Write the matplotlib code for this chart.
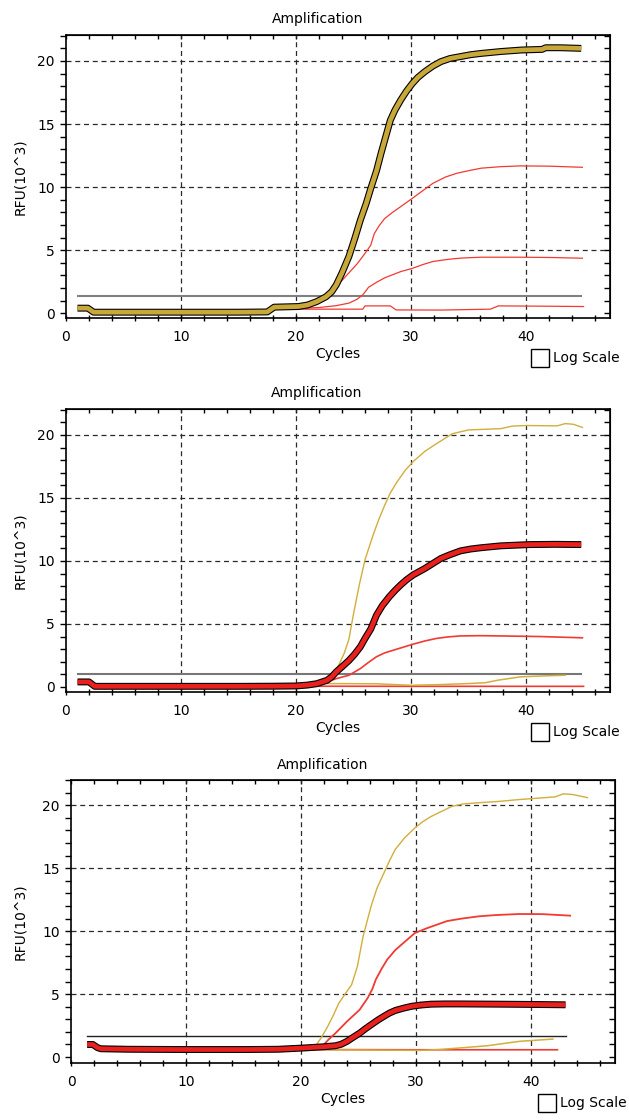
import matplotlib
matplotlib.use('Agg')
import matplotlib.pyplot as plt
import matplotlib.patheffects as pe
from matplotlib.patches import Rectangle
from matplotlib.ticker import MultipleLocator, NullFormatter

plt.rcParams['font.family'] = ['DejaVu Sans']

GOLD = '#C9A83A'
GOLD_THIN = '#D2AE3C'
RED = '#E8211E'
RED_THIN = '#F03A32'

# ---- panel 1: gold trace highlighted ----
p1_gold_x = [1.0, 1.9, 2.4, 5, 10, 15, 17.5, 18.1, 20.2, 21.0, 21.8, 22.6, 23.1, 23.5, 24.0, 24.6,
             25.1, 25.6, 26.1, 26.5, 27.0, 27.4, 27.8, 28.2, 28.6, 29.1, 29.6, 30.1, 30.6, 31.2,
             31.9, 32.6, 33.4, 34.3, 35.2, 36.1, 37.8, 39.6, 41.4, 41.7, 43.0, 44.8]
p1_gold_y = [0.40, 0.40, 0.08, 0.08, 0.08, 0.08, 0.10, 0.48, 0.53, 0.65, 0.92, 1.30, 1.70, 2.25, 3.20, 4.50,
             5.90, 7.40, 8.70, 9.90, 11.30, 12.70, 14.00, 15.30, 16.10, 16.90, 17.60, 18.20, 18.70, 19.15,
             19.60, 19.95, 20.20, 20.35, 20.50, 20.60, 20.75, 20.87, 20.92, 21.05, 21.05, 21.00]
p1_red_hi_x = [20.0, 21.5, 22.8, 23.8, 24.6, 25.3, 25.8, 26.2, 26.5, 26.8, 27.2, 27.7, 28.4, 29.1, 30.1,
               31.0, 31.9, 33.0, 34.0, 35.0, 36.1, 37.8, 39.5, 42.0, 44.9]
p1_red_hi_y = [0.45, 0.90, 1.60, 2.40, 3.20, 3.90, 4.50, 5.00, 5.40, 6.30, 6.90, 7.50, 8.00, 8.45, 9.10,
               9.70, 10.30, 10.80, 11.10, 11.30, 11.50, 11.62, 11.68, 11.66, 11.57]
p1_red_mid_x = [20.0, 22.0, 23.5, 24.6, 25.3, 25.8, 26.1, 26.3, 27.0, 27.7, 28.4, 29.1, 30.1, 31.0, 31.9,
                33.3, 34.5, 36.1, 39.5, 42.0, 44.9]
p1_red_mid_y = [0.38, 0.45, 0.60, 0.80, 1.10, 1.45, 1.80, 2.05, 2.45, 2.80, 3.05, 3.30, 3.55, 3.85, 4.10,
                4.28, 4.38, 4.44, 4.44, 4.42, 4.36]
p1_red_lo_x = [20.0, 25.8, 26.0, 28.2, 28.7, 32.6, 36.9, 37.6, 41.0, 45.0]
p1_red_lo_y = [0.32, 0.32, 0.58, 0.58, 0.26, 0.25, 0.32, 0.58, 0.56, 0.53]
p1_threshold = 1.4
p1_thr_x = [1.0, 44.8]

# ---- panel 2: red trace highlighted ----
p2_red_x = [1.0, 2.0, 2.5, 5, 10, 15, 18.0, 20.0, 21.0, 21.8, 22.7, 23.1, 23.5, 24.0, 24.6, 25.1, 25.6,
            26.0, 26.5, 27.0, 27.5, 28.1, 28.6, 29.1, 29.6, 30.2, 30.7, 31.2, 31.9, 32.6, 33.4, 34.3,
            35.2, 36.1, 37.8, 40.3, 42.5, 44.8]
p2_red_y = [0.40, 0.40, 0.05, 0.05, 0.05, 0.05, 0.06, 0.08, 0.15, 0.26, 0.53, 0.80, 1.20, 1.60, 2.10, 2.60,
            3.20, 3.85, 4.60, 5.70, 6.45, 7.15, 7.65, 8.10, 8.50, 8.90, 9.15, 9.40, 9.80, 10.20, 10.50,
            10.80, 10.95, 11.05, 11.20, 11.30, 11.32, 11.30]
p2_gold_hi_x = [21.0, 22.5, 23.1, 23.7, 24.2, 24.6, 25.0, 25.5, 26.0, 26.7, 27.2, 27.7, 28.2, 28.8, 29.5,
                30.2, 31.2, 32.2, 33.6, 35.0, 37.8, 38.8, 40.0, 42.7, 43.4, 44.1, 44.9]
p2_gold_hi_y = [0.15, 0.30, 0.90, 1.70, 2.70, 3.80, 5.80, 8.10, 10.10, 12.05, 13.30, 14.40, 15.40, 16.30,
                17.20, 17.90, 18.70, 19.30, 20.10, 20.40, 20.50, 20.70, 20.75, 20.72, 20.90, 20.85, 20.60]
p2_red_mid_x = [21.0, 22.5, 23.5, 24.6, 25.6, 26.3, 27.0, 27.7, 28.4, 29.3, 30.2, 31.2, 32.2, 33.2, 34.3,
                36.0, 37.8, 41.3, 44.9]
p2_red_mid_y = [0.15, 0.35, 0.66, 0.93, 1.46, 1.95, 2.40, 2.70, 2.90, 3.15, 3.40, 3.65, 3.85, 3.97, 4.05,
                4.07, 4.05, 4.00, 3.90]
p2_gold_lo_x = [21.0, 22.5, 27.0, 30.0, 32.6, 35.0, 36.5, 37.5, 39.5, 41.3, 43.4]
p2_gold_lo_y = [0.15, 0.27, 0.25, 0.13, 0.19, 0.27, 0.34, 0.53, 0.80, 0.87, 0.93]
p2_red_lo_x = [20.0, 30.0, 45.0]
p2_red_lo_y = [0.06, 0.05, 0.05]
p2_threshold = 1.0
p2_thr_x = [1.0, 44.8]

# ---- panel 3: low red trace highlighted ----
p3_red_x = [1.4, 1.9, 2.3, 2.6, 5, 10, 15, 18.0, 20.2, 22.0, 23.0, 23.5, 24.0, 24.5, 25.1, 25.6, 26.1,
            26.7, 27.2, 27.7, 28.2, 28.9, 29.6, 30.4, 31.3, 32.5, 33.8, 37.2, 40.0, 43.0]
p3_red_y = [1.00, 1.00, 0.75, 0.66, 0.62, 0.60, 0.60, 0.62, 0.72, 0.82, 0.90, 1.02, 1.25, 1.55, 1.90, 2.25,
            2.57, 2.95, 3.23, 3.50, 3.70, 3.88, 4.03, 4.13, 4.20, 4.22, 4.22, 4.20, 4.18, 4.15]
p3_gold_hi_x = [20.5, 21.25, 21.8, 22.3, 22.8, 23.3, 23.9, 24.4, 24.9, 25.4, 26.1, 26.6, 27.2, 27.7, 28.2,
                29.0, 29.9, 30.6, 31.3, 32.2, 33.1, 34.1, 35.5, 37.2, 39.0, 40.5, 42.1, 42.8, 43.6, 44.9]
p3_gold_hi_y = [0.70, 0.85, 1.60, 2.40, 3.30, 4.30, 5.10, 5.75, 7.20, 9.60, 12.00, 13.40, 14.60, 15.60,
                16.50, 17.40, 18.20, 18.70, 19.10, 19.50, 19.90, 20.10, 20.20, 20.30, 20.45, 20.55, 20.66,
                20.90, 20.85, 20.60]
p3_red_hi_x = [21.0, 21.9, 22.4, 23.0, 24.0, 25.1, 25.8, 26.2, 26.5, 27.0, 27.5, 28.2, 28.9, 29.9, 31.0,
               32.7, 34.0, 35.5, 37.0, 39.0, 41.0, 43.4]
p3_red_hi_y = [0.70, 0.90, 1.40, 1.90, 2.83, 3.76, 4.70, 5.40, 6.15, 7.00, 7.75, 8.50, 9.06, 9.85, 10.25,
               10.80, 11.00, 11.18, 11.28, 11.36, 11.35, 11.23]
p3_gold_lo_x = [21.0, 22.6, 26.0, 30.3, 32.0, 33.75, 36.2, 39.0, 41.9]
p3_gold_lo_y = [0.62, 0.58, 0.56, 0.53, 0.60, 0.72, 0.90, 1.25, 1.43]
p3_red_lo_x = [20.0, 30.0, 42.3]
p3_red_lo_y = [0.60, 0.58, 0.58]
p3_threshold = 1.64
p3_thr_x = [1.4, 43.0]

W, H = 629, 1120
fig = plt.figure(figsize=(W / 100, H / 100), dpi=100)


def px_box(left, top, right, bottom):
    return [left / W, 1 - bottom / H, (right - left) / W, (bottom - top) / H]


panels = [
    dict(box=(66, 35, 610, 318), ylim=(-0.38, 22.06), title=(318, 19), logbox=(531, 349),
         thr=(p1_thr_x, p1_threshold, '#808080', 1.5),
         thin=[(p1_red_lo_x, p1_red_lo_y, RED_THIN, 0.9),
               (p1_red_mid_x, p1_red_mid_y, RED_THIN, 0.9),
               (p1_red_hi_x, p1_red_hi_y, RED_THIN, 0.9)],
         thick=(p1_gold_x, p1_gold_y, GOLD)),
    dict(box=(66, 409, 610, 692), ylim=(-0.4, 22.06), title=(317, 393), logbox=(531, 723),
         thr=(p2_thr_x, p2_threshold, '#777777', 1.5),
         thin=[(p2_red_lo_x, p2_red_lo_y, RED_THIN, 1.2),
               (p2_gold_lo_x, p2_gold_lo_y, GOLD_THIN, 1.1),
               (p2_red_mid_x, p2_red_mid_y, RED_THIN, 1.2),
               (p2_gold_hi_x, p2_gold_hi_y, GOLD_THIN, 1.0)],
         thick=(p2_red_x, p2_red_y, RED)),
    dict(box=(71, 780, 615, 1063), ylim=(-0.47, 22.0), title=(323, 765), logbox=(538, 1094),
         thr=(p3_thr_x, p3_threshold, '#222222', 1.0),
         thin=[(p3_red_lo_x, p3_red_lo_y, RED_THIN, 1.2),
               (p3_gold_lo_x, p3_gold_lo_y, GOLD_THIN, 1.1),
               (p3_red_hi_x, p3_red_hi_y, RED_THIN, 1.3),
               (p3_gold_hi_x, p3_gold_hi_y, GOLD_THIN, 1.0)],
         thick=(p3_red_x, p3_red_y, RED)),
]

for p in panels:
    left, top, right, bottom = p['box']
    ax = fig.add_axes(px_box(*p['box']))
    ax.set_xlim(0, 47.3)
    ax.set_ylim(*p['ylim'])

    # dashed grid (no line at zero)
    for v in [10, 20, 30, 40]:
        ax.axvline(v, color='#2a2a2a', lw=0.9, ls=(0, (4, 3)), zorder=1)
    for v in [5, 10, 15, 20]:
        ax.axhline(v, color='#2a2a2a', lw=0.9, ls=(0, (4, 3)), zorder=1)

    tx, tv, tc, tw = p['thr']
    ax.plot(tx, [tv, tv], color=tc, lw=tw, zorder=2)

    for xs, ys, c, lw in p['thin']:
        ax.plot(xs, ys, color=c, lw=lw, zorder=3)

    xs, ys, c = p['thick']
    ax.plot(xs, ys, color=c, lw=3.4, solid_capstyle='butt', solid_joinstyle='round', zorder=4,
            path_effects=[pe.Stroke(linewidth=5.0, foreground='black'), pe.Normal()])

    for s in ax.spines.values():
        s.set_linewidth(1.2)
        s.set_color('black')

    ax.xaxis.set_major_locator(MultipleLocator(10))
    ax.xaxis.set_minor_locator(MultipleLocator(2))
    ax.yaxis.set_major_locator(MultipleLocator(5))
    ax.yaxis.set_minor_locator(MultipleLocator(1))
    ax.tick_params(axis='x', which='both', direction='inout', length=5, width=1, pad=6,
                   labelsize=10, top=False)
    ax.tick_params(axis='y', which='both', direction='out', length=4, width=1, pad=4,
                   labelsize=10, right=False)

    sec_y = ax.secondary_yaxis('right')
    sec_y.yaxis.set_major_locator(MultipleLocator(1))
    sec_y.yaxis.set_major_formatter(NullFormatter())
    sec_y.tick_params(direction='in', length=4, width=1)
    sec_x = ax.secondary_xaxis('top')
    sec_x.xaxis.set_major_locator(MultipleLocator(2))
    sec_x.xaxis.set_major_formatter(NullFormatter())
    sec_x.tick_params(direction='in', length=3, width=1)

    h = bottom - top
    w = right - left
    ax.set_xlabel('Cycles', fontsize=10)
    ax.xaxis.label.set_va('center')
    ax.xaxis.set_label_coords(0.5, -36 / h)
    ax.set_ylabel('RFU(10^3)', fontsize=10)
    ax.yaxis.label.set_va('center')
    ax.yaxis.set_label_coords((20 - left) / w, 0.5)

    ttx, tty = p['title']
    fig.text(ttx / W, 1 - tty / H, 'Amplification', ha='center', va='center', fontsize=10)

    bx, by = p['logbox']
    fig.patches.append(Rectangle((bx / W, 1 - (by + 18) / H), 18 / W, 18 / H,
                                 transform=fig.transFigure, fill=False, ec='black', lw=1.0))
    fig.text((bx + 22) / W, 1 - (by + 9) / H, 'Log Scale', ha='left', va='center', fontsize=10)

fig.savefig('out.png', dpi=100)
